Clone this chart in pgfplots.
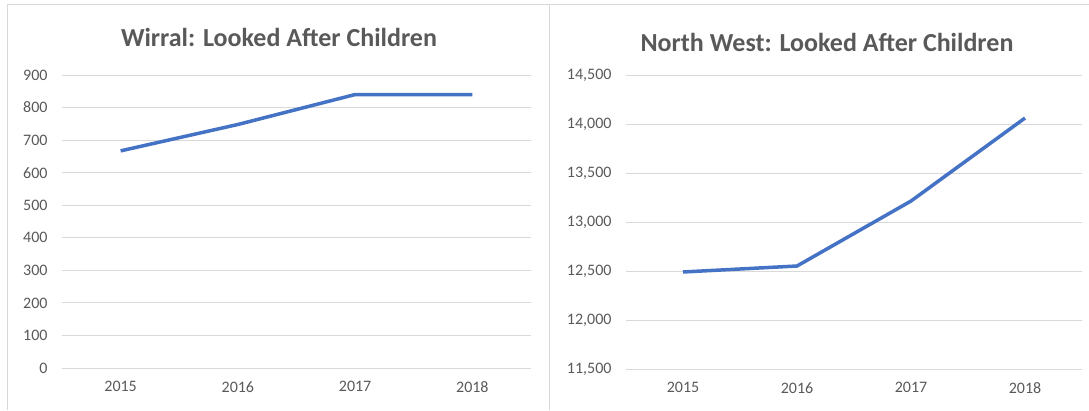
\documentclass[border=0pt]{standalone}
\usepackage{pgfplots}
\pgfplotsset{compat=1.18}
\usepackage{fontspec}
\setmainfont{Carlito}
\definecolor{txt}{HTML}{595959}
\definecolor{gridc}{HTML}{D9D9D9}
\definecolor{linec}{HTML}{4472C4}
\pgfplotsset{
  lac/.style={
    scale only axis, anchor=south west,
    xmin=-0.5, xmax=3.5,
    xtick={0,1,2,3}, xticklabels={2015,2016,2017,2018},
    axis line style={draw=none}, tick style={draw=none},
    ymajorgrids, grid style={gridc, line width=1pt},
    ticklabel style={font=\fontsize{16}{16}\selectfont, text=txt},
    /pgf/number format/assume math mode=true,
    /pgf/number format/1000 sep={,},
    scaled y ticks=false,
    yticklabel style={xshift=-11pt},
    xticklabel style={yshift=-10pt},
    clip=false,
  }
}
\begin{document}
\begin{tikzpicture}[x=1pt,y=1pt]
\path[use as bounding box] (0,0) rectangle (1089,410);
\draw[gridc, line width=1pt] (7,0) -- (7,405) -- (1089,405);
\draw[gridc, line width=1pt] (549.5,0) -- (549.5,405);
\node[font=\fontsize{26}{26}\selectfont\bfseries, text=txt] at (279,373) {Wirral: Looked After Children};
\node[font=\fontsize{26}{26}\selectfont\bfseries, text=txt] at (827,368) {North West: Looked After Children};
\begin{axis}[lac, at={(62pt,42pt)}, width=469pt, height=293pt,
  ymin=0, ymax=900, ytick={0,100,...,900}]
\addplot[linec, line width=3.5pt, line join=round] coordinates {(0,667) (1,748) (2,840) (3,840)};
\end{axis}
\begin{axis}[lac, at={(626pt,41pt)}, width=456pt, height=294pt,
  ymin=11500, ymax=14500, ytick={11500,12000,...,14500}]
\addplot[linec, line width=3.5pt, line join=round] coordinates {(0,12490) (1,12551) (2,13214) (3,14061)};
\end{axis}
\end{tikzpicture}
\end{document}
